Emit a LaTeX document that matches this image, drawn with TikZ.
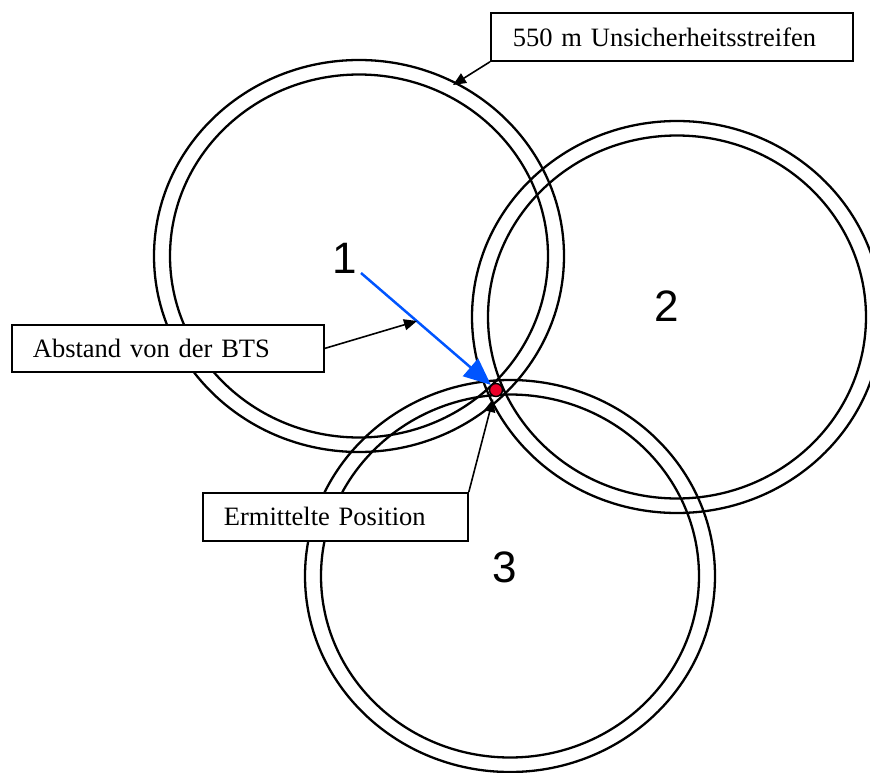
\documentclass[tikz,border=0pt]{standalone}
\usepackage{fontspec}
\setmainfont{Liberation Serif}
\newfontfamily\digitfont{Liberation Sans}
\usetikzlibrary{arrows.meta}
\definecolor{arrowblue}{RGB}{0,85,255}
\definecolor{dotred}{RGB}{235,0,40}
\begin{document}
\begin{tikzpicture}[x=1pt,y=-1pt,
  ring/.style={line width=2.3pt},
  lbl/.style={draw, line width=1.8pt, anchor=north west, align=left, inner ysep=0pt,
    font=\fontsize{26.5}{30}\selectfont, fill=white},
  num/.style={font=\digitfont\fontsize{44}{50}\selectfont, inner sep=0pt},
  pointer/.style={line width=1.6pt, -{Triangle[length=13pt,width=11pt]}}]
\useasboundingbox (0,0) rectangle (870,773);
\clip (0,0) rectangle (870,773);
% circles
\foreach \cx/\cy in {359/256, 677/317, 510/576}{
  \draw[ring] (\cx,\cy) ellipse [x radius=205pt, y radius=196pt];
  \draw[ring] (\cx,\cy) ellipse [x radius=189pt, y radius=181.5pt];
}
% numbers
\node[num] (n1) at (345,258) {1};
\node[num] (n2) at (667,306) {2};
\node[num] (n3) at (505,567) {3};
% position
\node[circle, fill=dotred, draw=black, line width=1.4pt, minimum size=13pt, inner sep=0pt] (pos) at (496,390) {};
\coordinate (bstart) at (361,273);
\draw[arrowblue, line width=2.5pt, -{Triangle[length=27pt,width=23pt]}] (bstart) -- (pos.north west);
% labels
\node[lbl, minimum width=362pt, minimum height=48pt, text width=318pt, inner xsep=22pt] (bUn) at (490,12) {550 m Unsicherheitsstreifen};
\node[lbl, minimum width=312pt, minimum height=47pt, text width=270pt, inner xsep=21pt] (bAb) at (11,324) {Abstand von der BTS};
\node[lbl, minimum width=265pt, minimum height=48pt, text width=223pt, inner xsep=21pt] (bEr) at (202,492) {Ermittelte Position};
% connectors
\coordinate (tUn) at (453,85);
\coordinate (tAb) at (417,321);
\coordinate (tEr) at (493,399);
\draw[pointer] (bUn.south west) -- (tUn);
\draw[pointer] (bAb.east) -- (tAb);
\draw[pointer] (bEr.north east) -- (tEr);
\end{tikzpicture}
\end{document}
